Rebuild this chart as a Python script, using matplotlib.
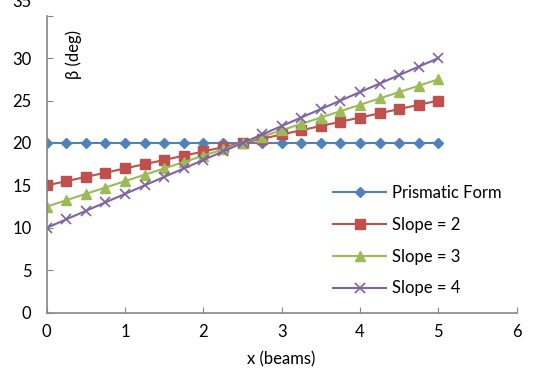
import matplotlib
matplotlib.use("Agg")
import matplotlib.pyplot as plt
import matplotlib.transforms as mtransforms

plt.rcParams['font.family'] = ['Lato', 'DejaVu Sans']

x = [0, 0.25, 0.5, 0.75, 1, 1.25, 1.5, 1.75, 2, 2.25, 2.5,
     2.75, 3, 3.25, 3.5, 3.75, 4, 4.25, 4.5, 4.75, 5]
prismatic = [20] * 21
slope2 = [15, 15.5, 16, 16.5, 17, 17.5, 18, 18.5, 19, 19.5, 20,
          20.5, 21, 21.5, 22, 22.5, 23, 23.5, 24, 24.5, 25]
slope3 = [12.5, 13.25, 14, 14.75, 15.5, 16.25, 17, 17.75, 18.5, 19.25, 20,
          20.75, 21.5, 22.25, 23, 23.75, 24.5, 25.25, 26, 26.75, 27.5]
slope4 = [10, 11, 12, 13, 14, 15, 16, 17, 18, 19, 20,
          21, 22, 23, 24, 25, 26, 27, 28, 29, 30]

fig = plt.figure(figsize=(5.43, 3.70), dpi=100)
ax = fig.add_axes([0.086, 0.155, 0.8655, 0.8025])

ax.plot(x, prismatic, color='#4F81BD', marker='D', markersize=5.5, lw=1.5, label='Prismatic Form')
ax.plot(x, slope2, color='#C0504D', marker='s', markersize=7, lw=1.5, label='Slope = 2')
ax.plot(x, slope3, color='#9BBB59', marker='^', markersize=7.5, lw=1.5, label='Slope = 3')
ax.plot(x, slope4, color='#8064A2', marker='x', markersize=6.5, mew=1.2, lw=1.5, label='Slope = 4')

ax.set_xlim(0, 6)
ax.set_ylim(0, 35)
ax.set_xticks(range(0, 7))
ax.set_yticks(range(0, 36, 5))

for s in ['top', 'right']:
    ax.spines[s].set_visible(False)
for s in ['left', 'bottom']:
    ax.spines[s].set_color('#868686')
    ax.spines[s].set_linewidth(1.2)
ax.tick_params(direction='in', length=4, color='#868686', labelsize=12, colors='#000000')
ax.tick_params(axis='x', pad=8)
ax.tick_params(axis='y', pad=11)

# top label sits clipped at the top edge in the reference
lab = ax.get_yticklabels()[-1]
lab.set_transform(lab.get_transform() + mtransforms.ScaledTranslation(0, 0.15, fig.dpi_scale_trans))

ax.set_xlabel('x (beams)', fontsize=12, labelpad=8)
ax.text(0.057, 0.87, 'β (deg)', transform=ax.transAxes, rotation=90,
        fontsize=12, ha='center', va='center')

ax.legend(loc='upper left', bbox_to_anchor=(0.613, 0.5), bbox_transform=fig.transFigure,
          frameon=False, borderpad=0, borderaxespad=0,
          fontsize=12, handlelength=3.2, labelspacing=0.95, handletextpad=0.35)

fig.savefig('out.png', dpi=100)
